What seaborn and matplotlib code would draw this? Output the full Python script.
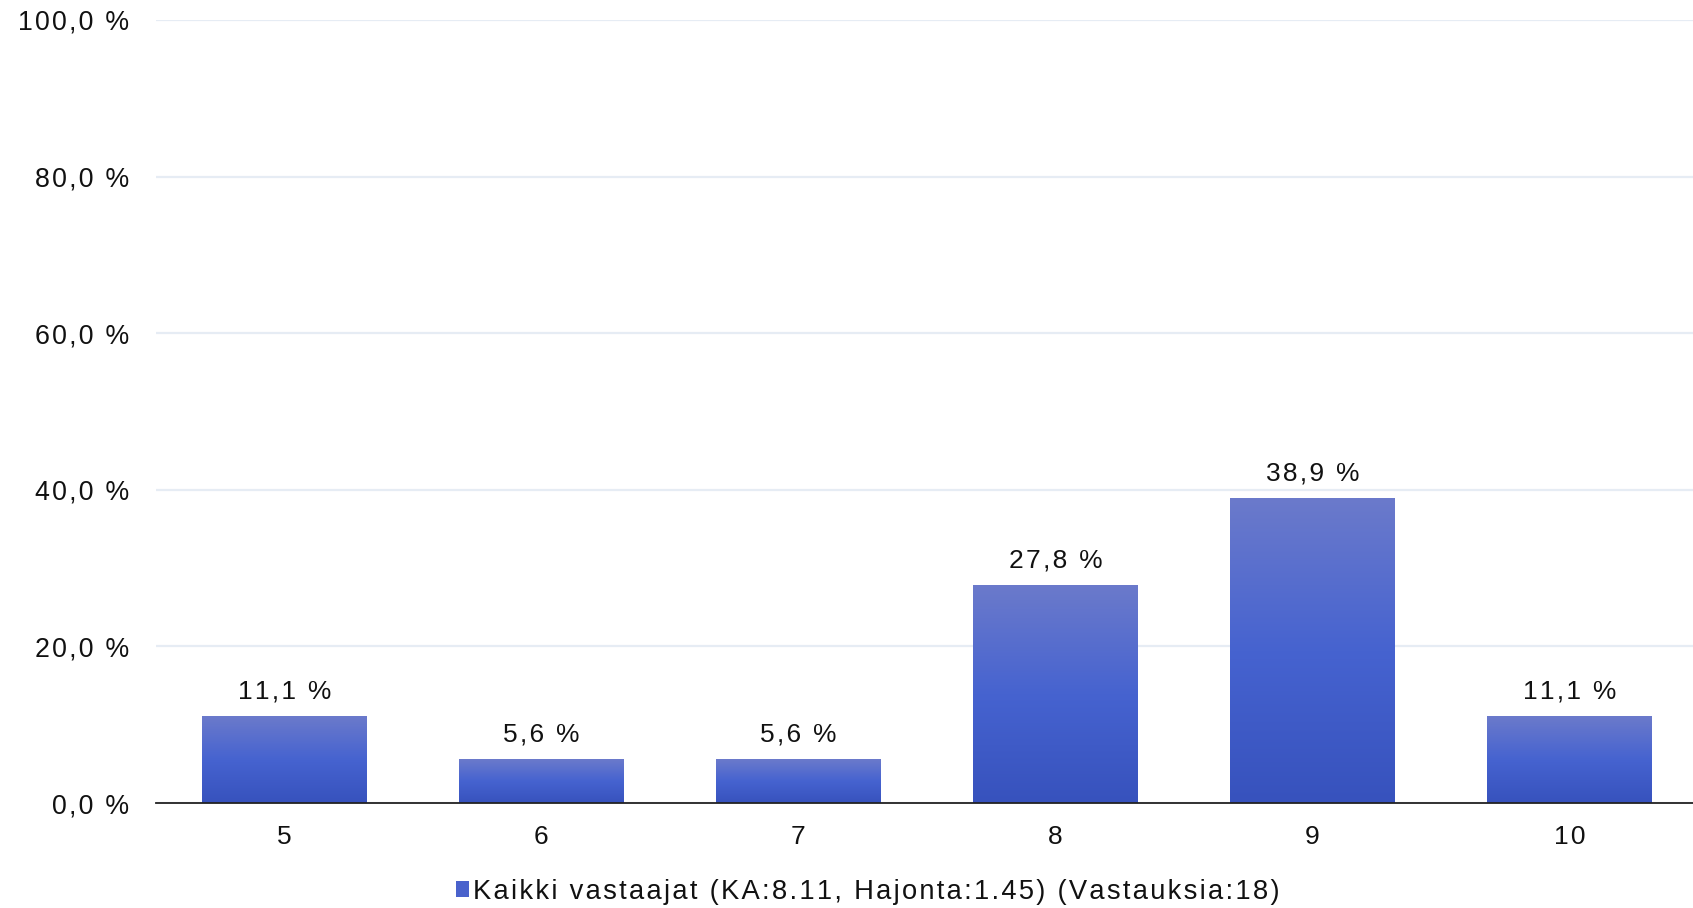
import numpy as np
import pandas as pd
import matplotlib
matplotlib.use("Agg")
import matplotlib.pyplot as plt
from matplotlib.colors import LinearSegmentedColormap
import seaborn as sns

# Survey answer distribution (grades 5..10), percentage of respondents
categories = ["5", "6", "7", "8", "9", "10"]
shares = [11.1, 5.6, 5.6, 27.8, 38.9, 11.1]
y_ticks = [0, 20, 40, 60, 80, 100]
series_label = "Kaikki vastaajat (KA:8.11, Hajonta:1.45) (Vastauksia:18)"

sns.set_theme(style="white")
plt.rcParams["font.family"] = ["Liberation Sans", "DejaVu Sans"]

HAIR = "\u200a"


def tracked(s):
    """Widen letter spacing by putting a hair space between characters."""
    return HAIR.join(s)


def pct(v):
    return tracked(f"{v:.1f} %".replace(".", ","))


df = pd.DataFrame({"grade": categories, "share": shares})

fig = plt.figure(figsize=(16.93, 9.08), dpi=100)
ax = fig.add_axes([0.0921, 0.1156, 0.9108, 0.8624])

sns.barplot(data=df, x="grade", y="share", order=categories, width=0.64,
            color="#4a64cc", saturation=1, ax=ax, zorder=3)

# vertical gradient fill for each bar
grad = LinearSegmentedColormap.from_list(
    "bar", ["#3752bd", "#4663d0", "#6b7acb"])
gradient = np.linspace(0, 1, 256).reshape(-1, 1)
for patch in ax.patches:
    x0, y0 = patch.get_x(), patch.get_y()
    w, h = patch.get_width(), patch.get_height()
    im = ax.imshow(gradient, cmap=grad, origin="lower", aspect="auto",
                   extent=[x0, x0 + w, y0, y0 + h], zorder=3)
    im.set_clip_path(patch)
    patch.set_facecolor("none")
    patch.set_edgecolor("none")
    ax.text(x0 + w / 2, y0 + h + 1.6, pct(h),
            ha="center", va="bottom", fontsize=19, color="#111111")

ax.set_xlim(-0.5, 5.5)
ax.set_ylim(0, 100)

ax.set_yticks(y_ticks)
ax.set_yticklabels([pct(v) for v in y_ticks])
ax.set_xticks(range(len(categories)))
ax.set_xticklabels([tracked(c) for c in categories])
ax.tick_params(axis="y", labelsize=19.3, length=0, pad=19.5, labelcolor="#111111")
ax.tick_params(axis="x", labelsize=19, length=0, pad=16, labelcolor="#111111")
ax.set_xlabel("")
ax.set_ylabel("")

ax.yaxis.grid(True, color="#e6ecf4", linewidth=1.6, zorder=0)
ax.set_axisbelow(True)
for side in ["top", "right", "left"]:
    ax.spines[side].set_visible(False)
ax.spines["bottom"].set_color("#222222")
ax.spines["bottom"].set_linewidth(1.3)
ax.spines["bottom"].set_zorder(4)

# legend below the axes
handle = plt.Rectangle((0, 0), 1, 1, facecolor="#4a62cc", edgecolor="none")
fig.legend([handle], [tracked(series_label)], loc="center",
           bbox_to_anchor=(0.5124, 0.018), frameon=False, fontsize=19.7,
           handlelength=0.5, handleheight=0.5, handletextpad=0.12,
           labelcolor="#111111")

fig.savefig("out.png", dpi=100)
